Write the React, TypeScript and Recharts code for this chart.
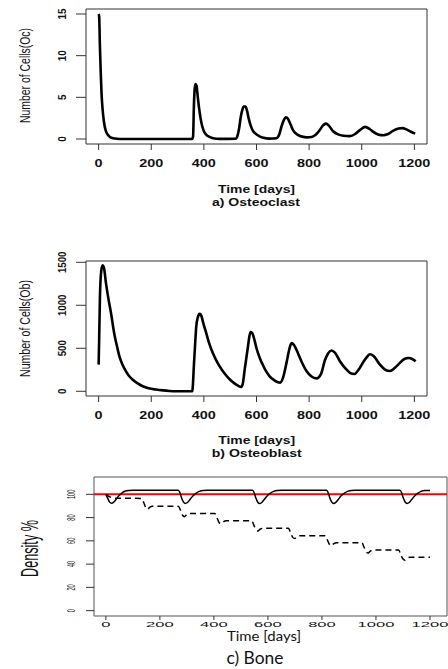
import React from 'react';
import { LineChart, Line, XAxis, YAxis, ReferenceArea, ReferenceLine } from 'recharts';

const timeTicks = [0, 200, 400, 600, 800, 1000, 1200];

// a) Osteoclast
const ocTicks = [0, 5, 10, 15];
const ocDays = [
  0, 2, 5, 8, 11, 15, 20, 27, 35, 45, 60, 80, 355, 359, 362, 365, 368, 372, 375, 378,
  384, 391, 398, 404, 415, 435, 460, 522, 528, 534, 540, 546, 552, 558, 564, 570, 578, 586, 594, 610,
  626, 650, 676, 686, 695, 703, 712, 720, 730, 740, 752, 765, 790, 810, 825, 841, 852, 864, 875, 892,
  910, 930, 955, 975, 994, 1013, 1030, 1044, 1062, 1082, 1100, 1120, 1140, 1155, 1170, 1185, 1203,
];
const ocCells = [
  15, 14.7, 11, 8, 5.5, 3.6, 2.1, 1.0, 0.5, 0.2, 0.05, 0, 0, 0.3, 3.9, 6.0, 6.6, 6.4, 5.6, 4.7,
  3.2, 1.9, 1.1, 0.7, 0.35, 0.1, 0.02, 0.05, 0.4, 1.3, 2.6, 3.5, 3.9, 3.9, 3.4, 2.5, 1.6, 1.0, 0.7, 0.35,
  0.15, 0.05, 0.1, 0.5, 1.5, 2.2, 2.6, 2.4, 1.7, 1.0, 0.6, 0.35, 0.2, 0.25, 0.5, 1.1, 1.6, 1.85, 1.6, 0.9,
  0.55, 0.4, 0.35, 0.6, 1.1, 1.45, 1.2, 0.85, 0.55, 0.45, 0.6, 1.0, 1.25, 1.3, 1.15, 0.9, 0.65,
];

// b) Osteoblast
const obTicks = [0, 500, 1000, 1500];
const obDays = [
  0, 2, 5, 10, 15, 20, 28, 37, 47, 60, 70, 79, 90, 104, 115, 130, 150, 168, 190, 218,
  245, 269, 300, 356, 358, 362, 367, 371, 377, 384, 390, 398, 409, 420, 434, 447, 460, 478, 498, 515,
  530, 542, 548, 555, 562, 568, 573, 578, 585, 592, 600, 612, 625, 638, 650, 668, 682, 690, 700, 714,
  724, 733, 742, 758, 775, 790, 808, 828, 845, 860, 872, 885, 898, 917, 937, 955, 972, 990, 1006, 1020,
  1031, 1045, 1069, 1090, 1107, 1125, 1145, 1162, 1178, 1192, 1205,
];
const obCells = [
  310, 600, 1100, 1400, 1465, 1440, 1255, 1080, 910, 660, 520, 405, 315, 232, 180, 135, 88, 58, 35, 20,
  10, 4, 1, 0, 60, 300, 560, 753, 860, 900, 880, 790, 676, 560, 444, 360, 290, 210, 140, 95,
  65, 50, 90, 250, 400, 530, 640, 690, 670, 600, 500, 390, 300, 225, 174, 128, 104, 100, 150, 330,
  480, 560, 540, 440, 320, 235, 175, 150, 200, 360, 440, 475, 450, 350, 270, 215, 200, 260, 340, 400,
  430, 410, 310, 250, 235, 270, 330, 375, 387, 375, 348,
];

// c) Bone
const densityTicks = [0, 20, 40, 60, 80, 100];
const normalDensity = 100;
const boneDays = [
  0, 7, 14, 21, 29, 38, 48, 58, 70, 85, 100,
  268, 274, 280, 287, 294, 302, 312, 322, 333, 346, 360, 375,
  543, 549, 555, 562, 569, 577, 587, 597, 608, 621, 635, 650,
  817, 823, 829, 836, 843, 851, 861, 871, 882, 895, 909, 924,
  1089, 1095, 1101, 1108, 1115, 1123, 1133, 1143, 1154, 1167, 1181, 1200,
];
const boneDensity = [
  100, 96.5, 93.3, 92.3, 93.3, 95.8, 98.7, 100.9, 102.6, 103.3, 103.5,
  103.5, 101.5, 97, 93.5, 92.2, 93, 95.8, 98.6, 100.9, 102.5, 103.3, 103.5,
  103.5, 101.4, 97, 93.4, 92.1, 93, 95.7, 98.6, 100.8, 102.5, 103.3, 103.5,
  103.5, 101.5, 97.1, 93.5, 92.2, 93.1, 95.8, 98.7, 100.9, 102.5, 103.3, 103.5,
  103.5, 101.4, 97, 93.4, 92.2, 93, 95.8, 98.6, 100.8, 102.5, 103.2, 103.4,
];
const lossDays = [
  0, 15, 35, 132, 140, 148, 154, 162, 172,
  268, 276, 284, 291, 299, 309, 403, 411, 419, 426, 434, 445,
  540, 548, 556, 563, 571, 582, 676, 684, 692, 699, 707, 718,
  812, 820, 828, 835, 843, 854, 948, 956, 964, 971, 979, 990,
  1084, 1092, 1100, 1107, 1115, 1126, 1200,
];
const lossDensity = [
  100, 97.8, 96.6, 96.5, 93, 88.5, 87.2, 88.8, 89.8,
  89.8, 86.5, 82, 80.8, 82.5, 83.6, 83.6, 80, 75.8, 74.8, 76.3, 77.3,
  77.3, 73.5, 69.5, 68.5, 70, 70.8, 70.8, 67, 63, 62, 63.5, 64.4,
  64.4, 60.8, 56.8, 55.8, 57.4, 58.4, 58.4, 54.5, 50.6, 49.6, 51.2, 52.1,
  52.1, 48.2, 44.3, 43.4, 45, 45.9, 45.9,
];

const toPoints = (days: number[], vals: number[]) => days.map((t, i) => ({ t, v: vals[i] }));

const SANS = '"Liberation Sans", Arial, Helvetica, sans-serif';

function makeXTick(dy: number, size: number, charW: number, bold: boolean) {
  return (props: any) => {
    const label = String(props.payload.value);
    return (
      <text
        x={props.x}
        y={props.y + dy}
        textAnchor="middle"
        fontFamily={SANS}
        fontSize={size}
        fontWeight={bold ? 'bold' : 'normal'}
        fill="#111"
        textLength={charW * label.length}
        lengthAdjust="spacingAndGlyphs"
      >
        {label}
      </text>
    );
  };
}

function makeYTick(baseX: number, size: number, charW: number, sx: number, bold: boolean) {
  return (props: any) => {
    const label = String(props.payload.value);
    return (
      <g transform={`translate(${baseX},${props.y}) scale(${sx},1) rotate(-90)`}>
        <text
          x={0}
          y={0}
          textAnchor="middle"
          fontFamily={SANS}
          fontSize={size}
          fontWeight={bold ? 'bold' : 'normal'}
          fill="#111"
          textLength={charW * label.length}
          lengthAdjust="spacingAndGlyphs"
        >
          {label}
        </text>
      </g>
    );
  };
}

interface PanelProps {
  top: number;
  height: number;
  plotTop: number;
  plotHeight: number;
  left: number;
  right: number;
  xDomain: [number, number];
  yDomain: [number, number];
  yTicks: number[];
  xTickSize: number;
  yTickSize: number;
  xTick: any;
  yTick: any;
  boxColor: string;
  children: React.ReactNode;
}

function Panel(p: PanelProps) {
  return (
    <div style={{ position: 'absolute', left: 0, top: p.top }}>
      <LineChart
        width={448}
        height={p.height}
        margin={{ top: p.plotTop, right: p.right, bottom: 0, left: 0 }}
      >
        <XAxis
          dataKey="t"
          type="number"
          domain={p.xDomain}
          ticks={timeTicks}
          allowDataOverflow
          axisLine={false}
          tickSize={p.xTickSize}
          tickMargin={0}
          tickLine={{ stroke: '#333' }}
          tick={p.xTick}
          height={p.height - p.plotTop - p.plotHeight}
        />
        <YAxis
          type="number"
          domain={p.yDomain}
          ticks={p.yTicks}
          allowDataOverflow
          axisLine={false}
          tickSize={p.yTickSize}
          tickMargin={0}
          tickLine={{ stroke: '#333' }}
          tick={p.yTick}
          width={p.left}
        />
        <ReferenceArea
          x1={p.xDomain[0]}
          x2={p.xDomain[1]}
          y1={p.yDomain[0]}
          y2={p.yDomain[1]}
          fill="none"
          stroke={p.boxColor}
          strokeWidth={1}
          ifOverflow="visible"
        />
        {p.children}
      </LineChart>
    </div>
  );
}

const rotated = (x: number, y: number, sx: number) => `translate(${x},${y}) scale(${sx},1) rotate(-90)`;

export default function App() {
  return (
    <div style={{ position: 'absolute', left: 0, top: 0, width: 448, height: 669, background: '#fff', overflow: 'hidden' }}>
      <Panel
        top={0}
        height={210}
        plotTop={9}
        plotHeight={135}
        left={86}
        right={21}
        xDomain={[-48, 1248]}
        yDomain={[-0.6, 15.6]}
        yTicks={ocTicks}
        xTickSize={6}
        yTickSize={10}
        xTick={makeXTick(16.5, 10, 8, true)}
        yTick={makeYTick(66, 10, 5.5, 1.1, true)}
        boxColor="#333"
      >
        <Line data={toPoints(ocDays, ocCells)} dataKey="v" type="monotone" stroke="#000" strokeWidth={2.6} dot={false} isAnimationActive={false} />
      </Panel>

      <Panel
        top={252}
        height={210}
        plotTop={9}
        plotHeight={135}
        left={86}
        right={21}
        xDomain={[-48, 1248]}
        yDomain={[-55, 1515]}
        yTicks={obTicks}
        xTickSize={6}
        yTickSize={10}
        xTick={makeXTick(16.5, 10, 8, true)}
        yTick={makeYTick(66, 10, 5.4, 1.1, true)}
        boxColor="#333"
      >
        <Line data={toPoints(obDays, obCells)} dataKey="v" type="monotone" stroke="#000" strokeWidth={2.6} dot={false} isAnimationActive={false} />
      </Panel>

      <Panel
        top={470}
        height={199}
        plotTop={7}
        plotHeight={139}
        left={94}
        right={1}
        xDomain={[-44, 1263]}
        yDomain={[-4.6, 114.9]}
        yTicks={densityTicks}
        xTickSize={4}
        yTickSize={8}
        xTick={makeXTick(6.5, 7.5, 9.2, false)}
        yTick={makeYTick(75, 6, 3.1, 1.9, false)}
        boxColor="#555"
      >
        <ReferenceLine y={normalDensity} stroke="#ff0000" strokeWidth={2} />
        <Line data={toPoints(lossDays, lossDensity)} dataKey="v" type="monotone" stroke="#000" strokeWidth={1.5} strokeDasharray="6 4" dot={false} isAnimationActive={false} />
        <Line data={toPoints(boneDays, boneDensity)} dataKey="v" type="monotone" stroke="#000" strokeWidth={1.5} dot={false} isAnimationActive={false} />
      </Panel>

      <svg width={448} height={669} style={{ position: 'absolute', left: 0, top: 0, pointerEvents: 'none' }}>
        <g fontFamily={SANS} fill="#111" textAnchor="middle">
          <text x={256.5} y={192.5} fontSize={11} fontWeight="bold" textLength={77} lengthAdjust="spacingAndGlyphs">Time [days]</text>
          <text x={256} y={205.5} fontSize={11} fontWeight="bold" textLength={88} lengthAdjust="spacingAndGlyphs">a) Osteoclast</text>
          <g transform={rotated(29.5, 75.5, 1.35)}>
            <text x={0} y={0} fontSize={10.5} textLength={95} lengthAdjust="spacingAndGlyphs">Number of Cells(Oc)</text>
          </g>

          <text x={256.7} y={444} fontSize={11} fontWeight="bold" textLength={77} lengthAdjust="spacingAndGlyphs">Time [days]</text>
          <text x={256.7} y={457} fontSize={11} fontWeight="bold" textLength={90} lengthAdjust="spacingAndGlyphs">b) Osteoblast</text>
          <g transform={rotated(29.5, 328.5, 1.35)}>
            <text x={0} y={0} fontSize={10.5} textLength={97} lengthAdjust="spacingAndGlyphs">Number of Cells(Ob)</text>
          </g>

          <g transform={rotated(38, 548.5, 1)}>
            <text x={0} y={0} fontSize={24} fontFamily='"Liberation Sans Narrow", "Liberation Sans", sans-serif' textLength={57} lengthAdjust="spacingAndGlyphs">Density %</text>
          </g>
          <text x={264} y={641} fontSize={13.5} fontFamily="Lato, 'Open Sans', sans-serif" textLength={74} lengthAdjust="spacingAndGlyphs">Time [days]</text>
          <text x={255} y={663.5} fontSize={17} fontFamily="Lato, 'Open Sans', sans-serif" textLength={57} lengthAdjust="spacingAndGlyphs">c) Bone</text>
        </g>
      </svg>
    </div>
  );
}
